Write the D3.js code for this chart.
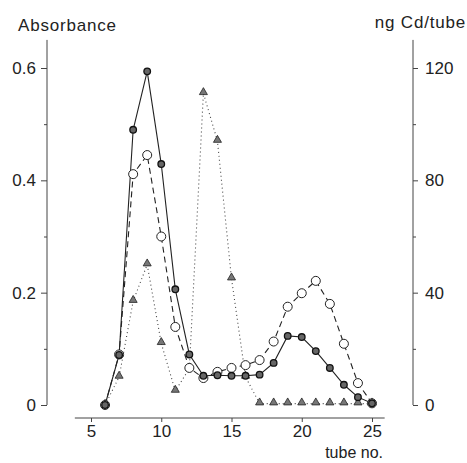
<!DOCTYPE html>
<html>
<head>
<meta charset="utf-8">
<script src="https://d3js.org/d3.v7.min.js"></script>
<style>
  body { margin: 0; background: #fff; }
  text { font-family: "Liberation Sans", Arial, sans-serif; fill: #222; }
</style>
</head>
<body>
<script>
// tube numbers 6..25
const tubes = [6,7,8,9,10,11,12,13,14,15,16,17,18,19,20,21,22,23,24,25];
// absorbance, filled circles (solid line)
const absFilled = [0,0.089,0.49,0.594,0.429,0.206,0.09,0.052,0.053,0.052,0.052,0.054,0.075,0.123,0.121,0.096,0.066,0.036,0.014,0.003];
// absorbance, open circles (dashed line)
const absOpen = [0,0.09,0.411,0.445,0.30,0.139,0.066,0.048,0.059,0.066,0.071,0.08,0.113,0.175,0.199,0.221,0.18,0.109,0.039,0.003];
// ng Cd per tube, triangles (dotted line, right axis)
const cdTri = [0,10,37,50,22,5,13,111,94,45,10,0.5,0.5,0.5,0.5,0.5,0.5,0.5,0.5,0.5];

const xTicks = [5,10,15,20,25];
const leftTicks = [0,0.2,0.4,0.6];
const leftMinor = [0.1,0.3,0.5];
const rightTicks = [0,40,80,120];
const rightMinor = [20,60,100];

const width = 467, height = 463;
const axisLeftX = 47, axisRightX = 413, axisBottomY = 418;

let svg = d3.select("body").append("svg")
    .attr("width", width)
    .attr("height", height);

let x = d3.scaleLinear().domain([5,25]).range([91,372]);
let yL = d3.scaleLinear().domain([0,0.6]).range([405,68]);
let yR = d3.scaleLinear().domain([0,120]).range([405,68]);

const ink = "#222";
const axisInk = "#444";

// ---- axes
function styleAxis(g) {
    g.select(".domain").remove();
    g.selectAll("line").attr("stroke", axisInk);
    g.selectAll("text").style("font-size", "17px").attr("fill", ink);
}

svg.append("line")
    .attr("x1", axisLeftX).attr("x2", axisLeftX)
    .attr("y1", yL(0)).attr("y2", yL(0.65))
    .attr("stroke", axisInk).attr("stroke-width", 1);
svg.append("g")
    .attr("transform", `translate(${axisLeftX},0)`)
    .call(d3.axisLeft(yL).tickValues(leftTicks).tickSize(6).tickPadding(5)
        .tickFormat(d => d === 0 ? "0" : d3.format(".1f")(d)))
    .call(styleAxis);
svg.append("g")
    .attr("transform", `translate(${axisLeftX},0)`)
    .call(d3.axisLeft(yL).tickValues(leftMinor).tickSize(3).tickFormat(""))
    .call(styleAxis);

svg.append("line")
    .attr("x1", axisRightX).attr("x2", axisRightX)
    .attr("y1", yR(0)).attr("y2", yR(130))
    .attr("stroke", axisInk).attr("stroke-width", 1);
svg.append("g")
    .attr("transform", `translate(${axisRightX},0)`)
    .call(d3.axisRight(yR).tickValues(rightTicks).tickSize(5).tickPadding(7))
    .call(styleAxis);
svg.append("g")
    .attr("transform", `translate(${axisRightX},0)`)
    .call(d3.axisRight(yR).tickValues(rightMinor).tickSize(3).tickFormat(""))
    .call(styleAxis);

svg.append("line")
    .attr("x1", x(3.85)).attr("x2", x(25.9))
    .attr("y1", axisBottomY).attr("y2", axisBottomY)
    .attr("stroke", axisInk).attr("stroke-width", 1);
svg.append("g")
    .attr("transform", `translate(0,${axisBottomY})`)
    .call(d3.axisBottom(x).tickValues(xTicks).tickSize(4).tickPadding(3))
    .call(styleAxis);

// ---- axis titles
svg.append("text").attr("x", 18).attr("y", 31)
    .style("font-size", "17px").style("letter-spacing", "0.8px").text("Absorbance");
svg.append("text").attr("x", 466).attr("y", 28)
    .attr("text-anchor", "end")
    .style("font-size", "17px").style("letter-spacing", "0.8px").text("ng Cd/tube");
svg.append("text").attr("x", 383).attr("y", 458)
    .attr("text-anchor", "end")
    .style("font-size", "16px").text("tube no.");

// ---- series
let filledData = tubes.map((t, i) => ({t: t, v: absFilled[i]}));
let openData = tubes.map((t, i) => ({t: t, v: absOpen[i]}));
let triData = tubes.map((t, i) => ({t: t, v: cdTri[i]}));

let lineL = d3.line().x(d => x(d.t)).y(d => yL(d.v));
let lineR = d3.line().x(d => x(d.t)).y(d => yR(d.v));

svg.append("path").datum(triData)
    .attr("d", lineR)
    .attr("fill", "none").attr("stroke", "#444")
    .attr("stroke-width", 1.1).attr("stroke-dasharray", "1,3");
svg.append("path").datum(openData)
    .attr("d", lineL)
    .attr("fill", "none").attr("stroke", ink)
    .attr("stroke-width", 1.1).attr("stroke-dasharray", "6,4");
svg.append("path").datum(filledData)
    .attr("d", lineL)
    .attr("fill", "none").attr("stroke", ink)
    .attr("stroke-width", 1.1);

// triangles
svg.selectAll("path.tri")
    .data(triData)
    .join("path")
        .attr("class", "tri")
        .attr("d", d3.symbol().type(d3.symbolTriangle).size(28))
        .attr("transform", d => `translate(${x(d.t)},${yR(d.v) - 1})`)
        .attr("fill", "#777").attr("stroke", ink).attr("stroke-width", 0.8);

// open circles
svg.selectAll("circle.open")
    .data(openData)
    .join("circle")
        .attr("class", "open")
        .attr("cx", d => x(d.t))
        .attr("cy", d => yL(d.v))
        .attr("r", 4.5)
        .attr("fill", "#fff").attr("stroke", ink).attr("stroke-width", 1);

// filled circles
svg.selectAll("circle.filled")
    .data(filledData)
    .join("circle")
        .attr("class", "filled")
        .attr("cx", d => x(d.t))
        .attr("cy", d => yL(d.v))
        .attr("r", 3.3)
        .attr("fill", "#666").attr("stroke", "#111").attr("stroke-width", 1.3);
</script>
</body>
</html>
